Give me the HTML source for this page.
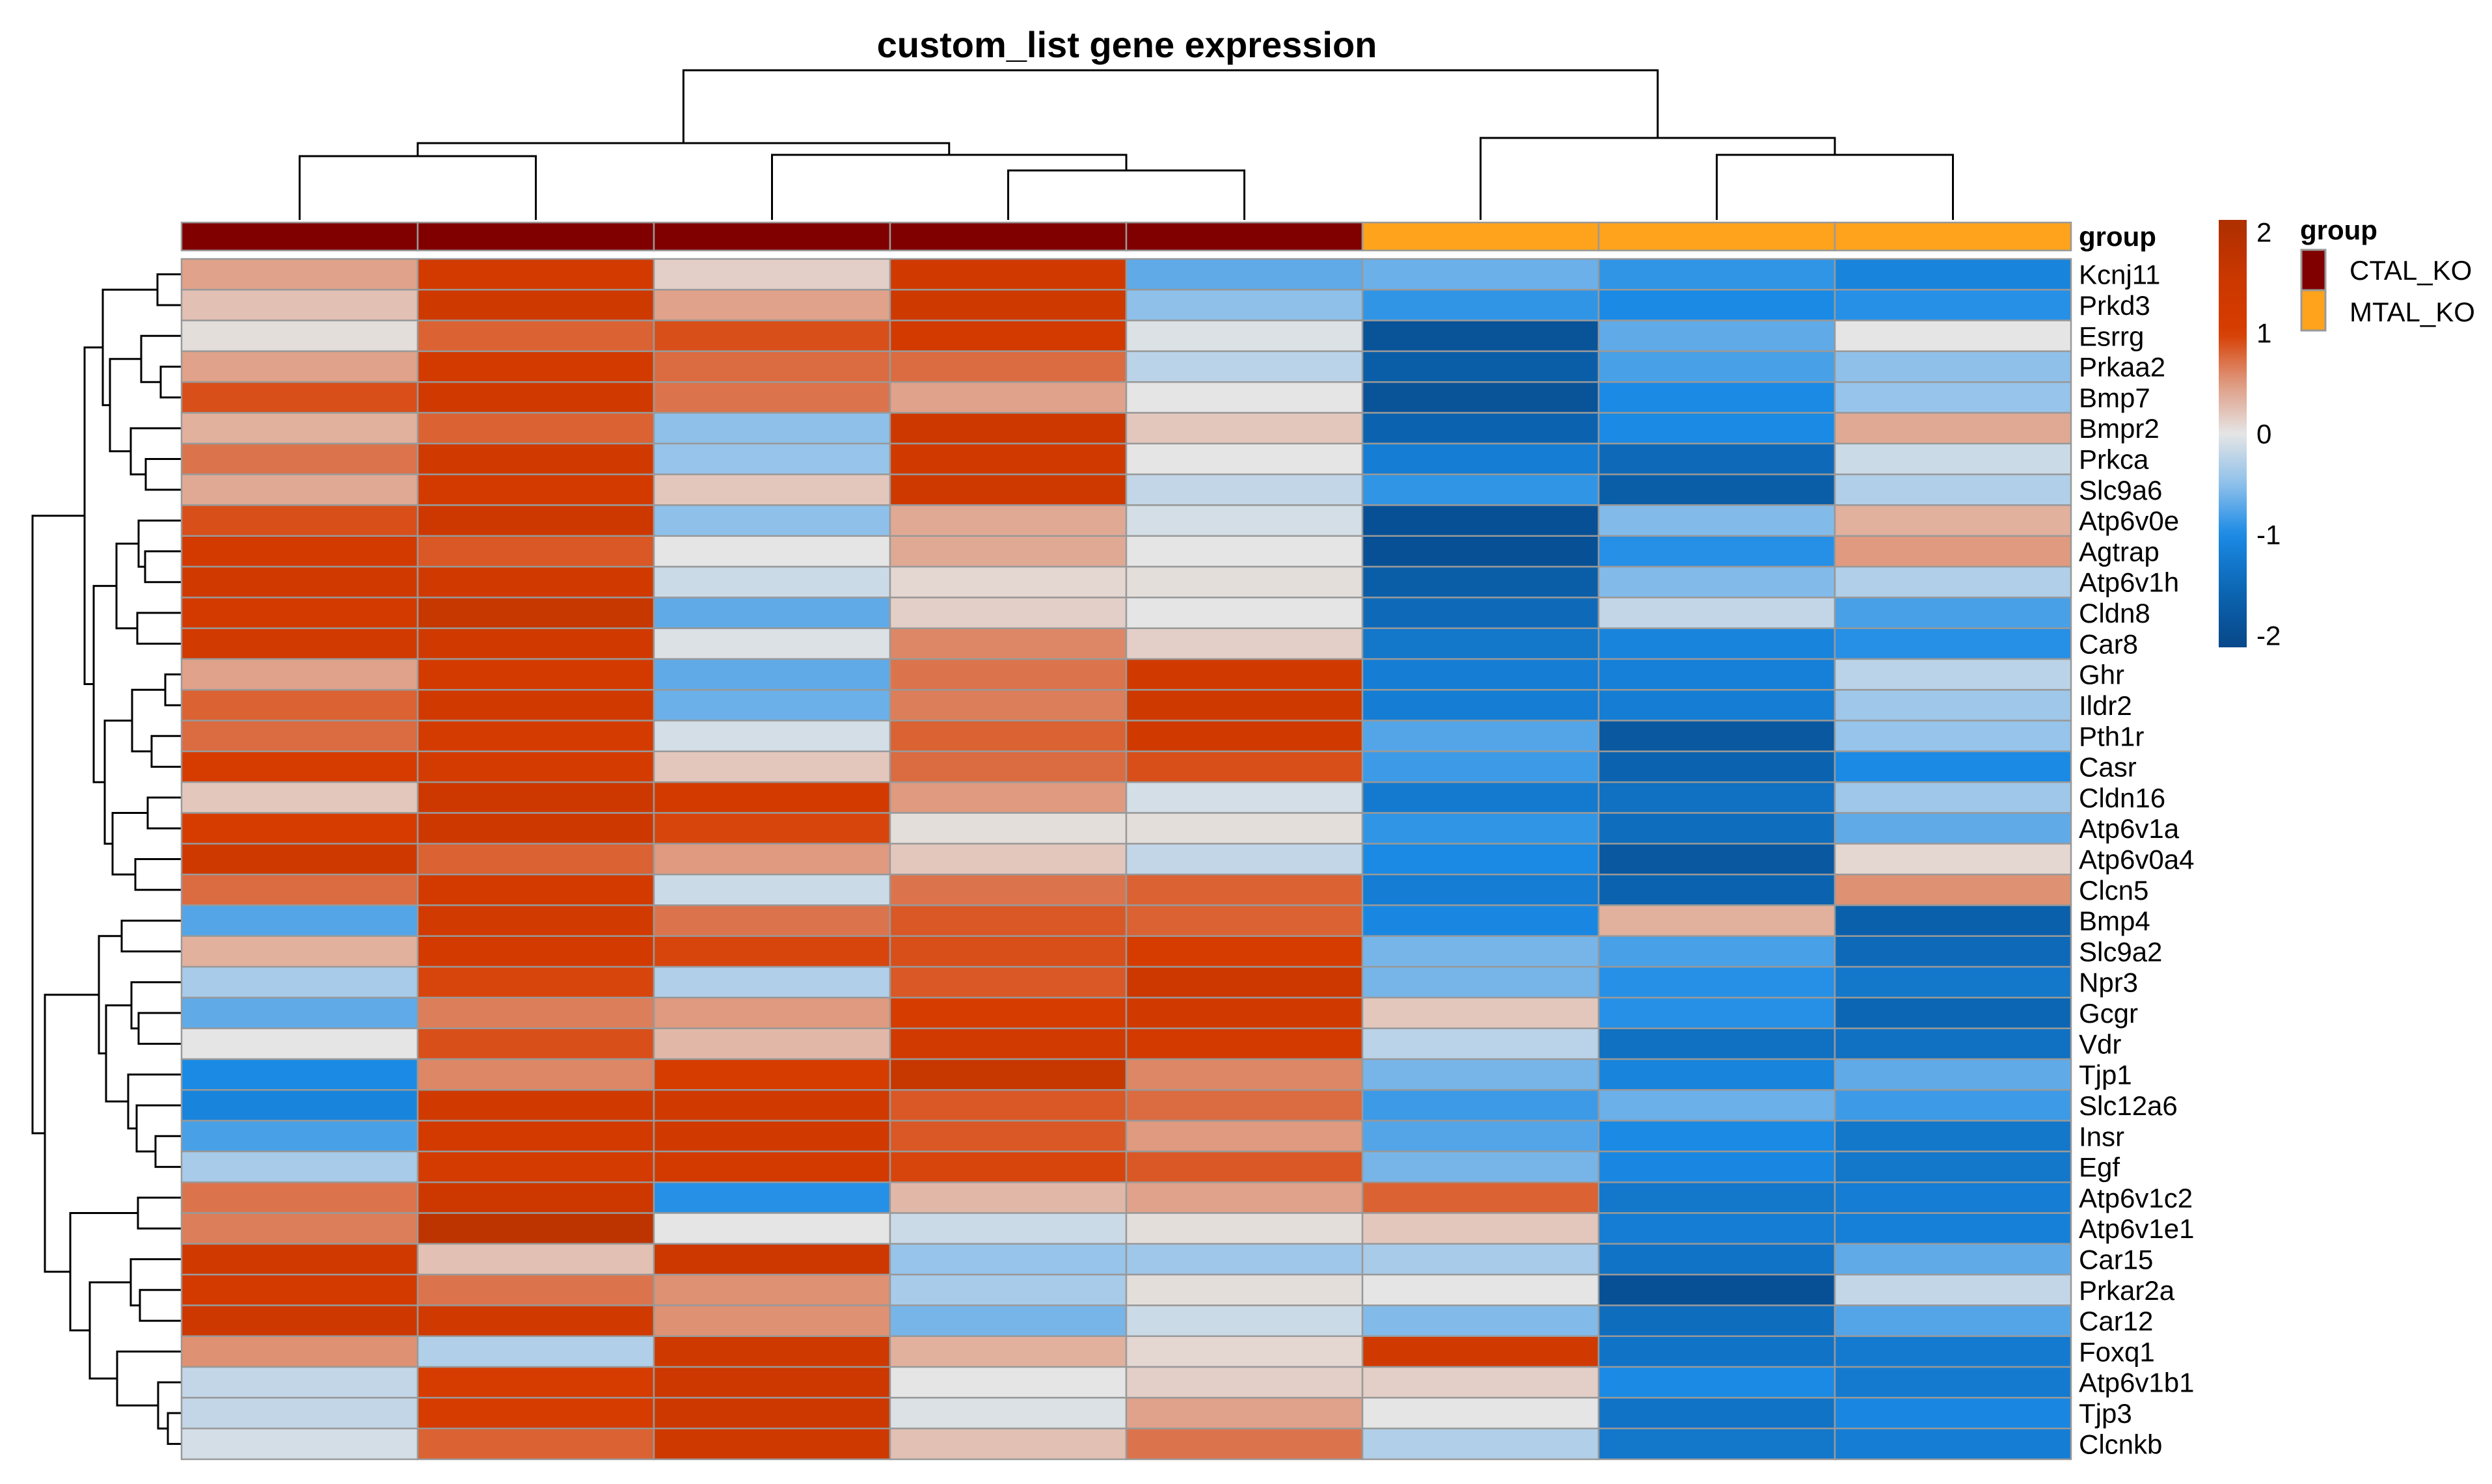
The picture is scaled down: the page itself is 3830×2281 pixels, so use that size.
<!DOCTYPE html>
<html><head><meta charset="utf-8"><title>custom_list gene expression</title>
<style>
html,body{margin:0;padding:0;background:#fff;}
svg{display:block;font-family:"Liberation Sans",Arial,sans-serif;}
</style></head>
<body>
<svg id="chart" width="3830" height="2281" viewBox="0 0 3830 2281" xmlns="http://www.w3.org/2000/svg">
<rect width="3830" height="2281" fill="#fff"/>
<text x="1732" y="88" font-size="56" font-weight="bold" text-anchor="middle">custom_list gene expression</text>
<g id="coldendro"></g>
<g id="rowdendro"></g>
<g id="groupbar"></g>
<g id="cells"></g>
<g id="rowlabels"></g>
<text x="3195" y="378" font-size="42" font-weight="bold">group</text>
<g id="colorbar"></g>
<g>
<text x="3535" y="368" font-size="42" font-weight="bold">group</text>
<rect x="3537" y="384" width="37" height="62" fill="#800000" stroke="#999" stroke-width="3"/>
<rect x="3537" y="446" width="37" height="62" fill="#FEA31B" stroke="#999" stroke-width="3"/>
<text x="3611" y="430" font-size="42">CTAL_KO</text>
<text x="3611" y="494" font-size="42">MTAL_KO</text>
</g>
</svg>
<script>
const genes = ["Kcnj11","Prkd3","Esrrg","Prkaa2","Bmp7","Bmpr2","Prkca","Slc9a6","Atp6v0e","Agtrap","Atp6v1h","Cldn8","Car8","Ghr","Ildr2","Pth1r","Casr","Cldn16","Atp6v1a","Atp6v0a4","Clcn5","Bmp4","Slc9a2","Npr3","Gcgr","Vdr","Tjp1","Slc12a6","Insr","Egf","Atp6v1c2","Atp6v1e1","Car15","Prkar2a","Car12","Foxq1","Atp6v1b1","Tjp3","Clcnkb"];
const samples = ["s1","s2","s3","s4","s5","s6","s7","s8"];
const groups = ["CTAL_KO","CTAL_KO","CTAL_KO","CTAL_KO","CTAL_KO","MTAL_KO","MTAL_KO","MTAL_KO"];
const values = [
[0.45,1.2,0.15,1.3,-0.7,-0.65,-0.9,-1.1],
[0.25,1.4,0.45,1.4,-0.5,-0.9,-1.0,-0.95],
[0.05,0.8,0.9,1.2,-0.05,-1.9,-0.7,0.0],
[0.45,1.2,0.75,0.75,-0.25,-1.7,-0.8,-0.5],
[0.9,1.3,0.7,0.45,0.0,-1.9,-1.0,-0.45],
[0.35,0.8,-0.5,1.5,0.2,-1.6,-1.0,0.4],
[0.7,1.3,-0.45,1.3,0.0,-1.2,-1.5,-0.15],
[0.4,1.2,0.2,1.4,-0.2,-0.9,-1.7,-0.3],
[0.9,1.5,-0.5,0.4,-0.1,-1.95,-0.55,0.35],
[1.2,0.85,0.0,0.4,0.0,-1.95,-0.95,0.5],
[1.3,1.3,-0.15,0.1,0.05,-1.7,-0.55,-0.3],
[1.2,1.6,-0.7,0.15,0.0,-1.5,-0.2,-0.8],
[1.25,1.3,-0.05,0.6,0.15,-1.3,-1.1,-0.95],
[0.45,1.2,-0.7,0.7,1.3,-1.2,-1.15,-0.25],
[0.8,1.3,-0.65,0.65,1.4,-1.2,-1.2,-0.4],
[0.75,1.1,-0.1,0.8,1.3,-0.75,-1.8,-0.45],
[1.0,1.1,0.2,0.75,0.9,-0.85,-1.6,-1.0],
[0.2,1.5,1.2,0.5,-0.1,-1.25,-1.4,-0.4],
[1.0,1.5,0.95,0.05,0.05,-0.9,-1.45,-0.7],
[1.4,0.8,0.5,0.2,-0.2,-1.0,-1.8,0.1],
[0.75,1.2,-0.15,0.7,0.8,-1.2,-1.6,0.55],
[-0.75,1.25,0.7,0.85,0.8,-1.05,0.35,-1.65],
[0.35,1.2,0.95,0.9,1.0,-0.6,-0.8,-1.5],
[-0.35,0.95,-0.3,0.85,1.5,-0.6,-0.95,-1.3],
[-0.7,0.65,0.5,1.0,1.3,0.2,-0.95,-1.55],
[0.0,0.9,0.3,1.25,1.2,-0.25,-1.4,-1.4],
[-1.0,0.6,1.0,1.6,0.6,-0.6,-1.1,-0.7],
[-1.1,1.3,1.3,0.85,0.75,-0.85,-0.65,-0.85],
[-0.8,1.2,1.3,0.85,0.5,-0.75,-1.0,-1.3],
[-0.35,1.1,1.2,0.95,0.85,-0.6,-1.05,-1.3],
[0.7,1.5,-0.95,0.3,0.45,0.8,-1.3,-1.2],
[0.65,1.8,0.0,-0.15,0.05,0.2,-1.2,-1.15],
[1.3,0.25,1.5,-0.45,-0.4,-0.35,-1.35,-0.7],
[1.2,0.7,0.55,-0.35,0.05,0.0,-1.95,-0.2],
[1.5,1.3,0.55,-0.6,-0.15,-0.55,-1.45,-0.75],
[0.55,-0.3,1.4,0.35,0.1,1.3,-1.35,-1.25],
[-0.2,1.0,1.5,0.0,0.15,0.15,-1.0,-1.25],
[-0.2,1.0,1.5,-0.05,0.45,0.0,-1.35,-1.05],
[-0.1,0.8,1.4,0.25,0.7,-0.3,-1.3,-1.2]
];
const colorTicks = [2,1,0,-1,-2];
// dendrogram trees: [left, right, height]; leaves are indices
const rowTree = [
 [[[0,1,3.7],[[2,[3,4,3.2],6.2],[5,[6,7,5.5],7.8],11.0],12.1],
  [[[8,[9,10,5.6],6.6],[11,12,6.8],10.0],[[[13,14,2.5],[15,16,4.6],7.6],[[17,18,5.2],[19,20,7.1],10.6],11.8],13.5],14.9],
 [[[21,22,9.2],[[23,[24,25,6.6],7.7],[26,[27,[28,29,4.0],6.9],8.2],11.6],12.7],
  [[30,31,6.7],[[32,[33,34,6.4],7.8],[35,[36,[37,38,2.1],3.6],9.9],14.1],17.1],21.0],
 22.9];
const colTree = [[[0,1,9.8],[2,[3,4,7.6],10.0],11.8],[5,[6,7,10.0],12.6],23.0];

const NS = "http://www.w3.org/2000/svg";
const X0 = 279, X1 = 3183, Y0 = 398, Y1 = 2243;
const cw = (X1 - X0) / samples.length, rh = (Y1 - Y0) / genes.length;
const colX = i => X0 + cw * i;
const rowY = i => Y0 + rh * i;
const rowDX = h => X0 - h * 10;
const colDY = h => 338 - h * 10;

const stops = [[-2.1,[7,72,138]],[-1.6,[11,99,175]],[-1.0,[26,138,229]],[-0.5,[142,192,234]],[0,[229,229,229]],[0.5,[223,154,128]],[1.0,[214,60,0]],[1.5,[204,56,0]],[2.1,[174,47,0]]];
function color(v){
  if (v <= stops[0][0]) v = stops[0][0];
  if (v >= stops[stops.length-1][0]) v = stops[stops.length-1][0];
  for (let i=0;i<stops.length-1;i++){
    const a=stops[i], b=stops[i+1];
    if (v>=a[0] && v<=b[0]){
      const t=(v-a[0])/(b[0]-a[0]);
      const c=a[1].map((x,k)=>Math.round(x+(b[1][k]-x)*t));
      return "rgb("+c.join(",")+")";
    }
  }
  return "#e5e5e5";
}
function mk(tag, attrs, parent){
  const e = document.createElementNS(NS, tag);
  for (const k in attrs) e.setAttribute(k, attrs[k]);
  parent.appendChild(e);
  return e;
}
const cells = document.getElementById("cells");
values.forEach((row, r) => row.forEach((v, c) => {
  const e = mk("rect", {x: colX(c), y: rowY(r), width: cw, height: rh, fill: color(v), stroke: "#999", "stroke-width": 2.5}, cells);
  
  
}));
const gb = document.getElementById("groupbar");
groups.forEach((g, c) => {
  const e = mk("rect", {x: colX(c), y: 342, width: cw, height: 43, fill: g === "CTAL_KO" ? "#800000" : "#FEA31B", stroke: "#999", "stroke-width": 2.5}, gb);
  
  
});
const rl = document.getElementById("rowlabels");
genes.forEach((g, r) => {
  const t = mk("text", {x: 3195, y: rowY(r) + rh/2 + 15, "font-size": 42}, rl);
  t.textContent = g;
  
  
});
// dendrograms
function drawTree(node, pos, hpos, g, horizontal){
  // returns [leafCoord, heightCoord]
  if (typeof node === "number") return [pos(node), hpos(0)];
  const a = drawTree(node[0], pos, hpos, g, horizontal);
  const b = drawTree(node[1], pos, hpos, g, horizontal);
  const h = hpos(node[2]);
  let d;
  if (horizontal) d = `M${a[1]},${a[0]}H${h}V${b[0]}H${b[1]}`;
  else d = `M${a[0]},${a[1]}V${h}H${b[0]}V${b[1]}`;
  const p = mk("path", {d: d, fill: "none", stroke: "#000", "stroke-width": 3}, g);
  
  
  return [(a[0]+b[0])/2, h];
}
drawTree(rowTree, i => rowY(i) + rh/2, rowDX, document.getElementById("rowdendro"), true);
drawTree(colTree, i => colX(i) + cw/2, colDY, document.getElementById("coldendro"), false);
// colorbar
const cb = document.getElementById("colorbar");
const cbTop = 338, cbBot = 995, vTop = 2.12, vBot = -2.12;
const vy = v => cbTop + (vTop - v) / (vTop - vBot) * (cbBot - cbTop);
const defs = mk("defs", {}, cb);
const grad = mk("linearGradient", {id: "cbg", x1: 0, y1: 0, x2: 0, y2: 1}, defs);
for (let i = 0; i <= 40; i++) {
  const v = vTop - (vTop - vBot) * i / 40;
  mk("stop", {offset: (i/40), "stop-color": color(v)}, grad);
}
const bar = mk("rect", {x: 3410, y: cbTop, width: 43, height: cbBot - cbTop, fill: "url(#cbg)"}, cb);


colorTicks.forEach(v => {
  const t = mk("text", {x: 3468, y: vy(v) + 15, "font-size": 42}, cb);
  t.textContent = String(v);
  
  
});
</script>
</body></html>
